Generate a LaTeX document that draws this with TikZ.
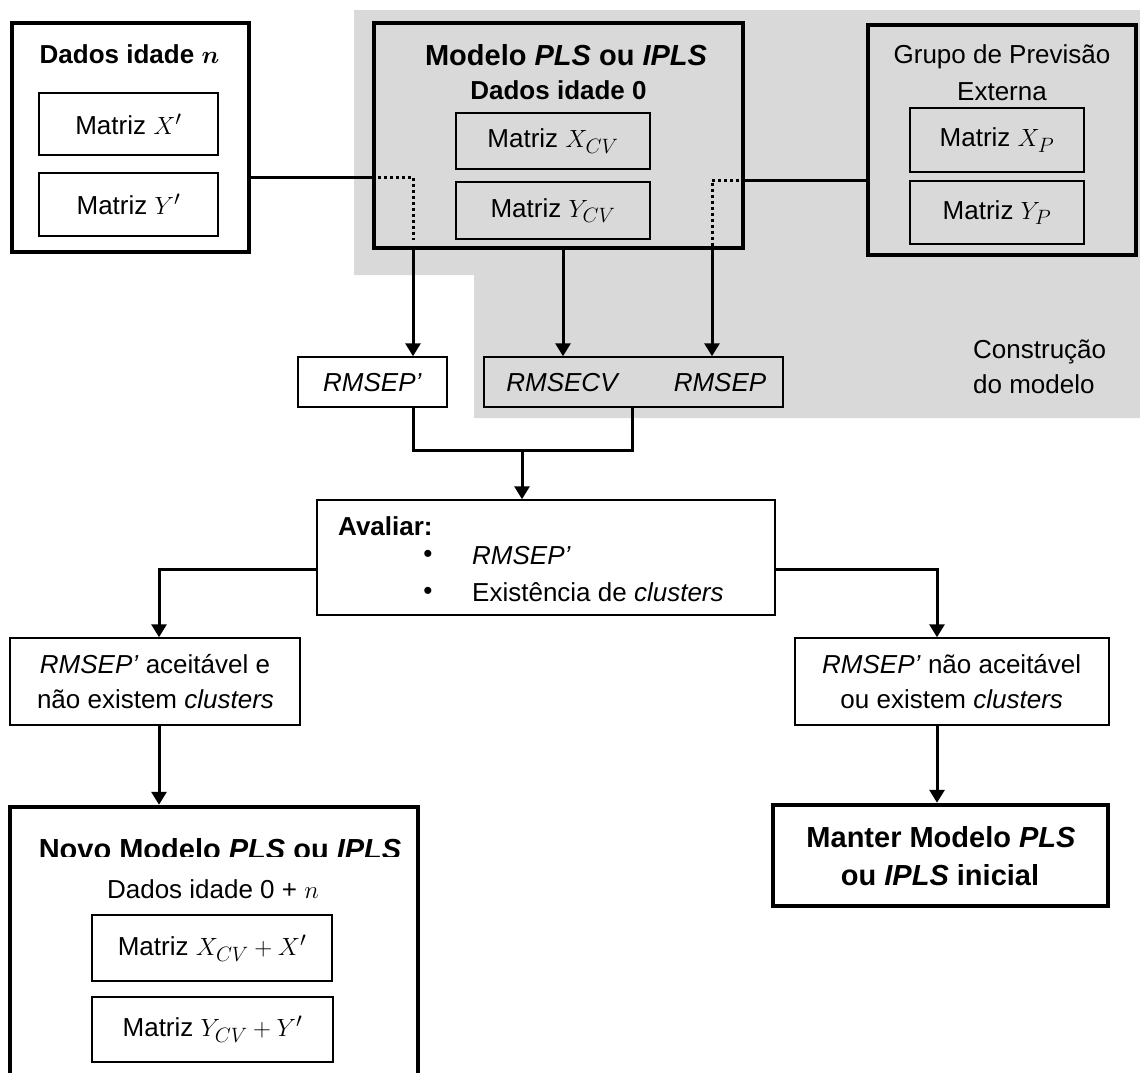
\documentclass[tikz,border=0pt]{standalone}
\usepackage{fontspec}
\setmainfont{Liberation Sans}
\usetikzlibrary{arrows.meta}
\DeclareMathSizes{26}{26.5}{20}{15}
\definecolor{bggray}{HTML}{D9D9D9}
\begin{document}
\begin{tikzpicture}[x=1pt,y=-1pt,
  nt/.style={font=\fontsize{26}{35}\selectfont, inner sep=0pt},
  bt/.style={font=\fontsize{26}{35}\selectfont\bfseries, inner sep=0pt},
  tt/.style={font=\fontsize{29}{38}\selectfont\bfseries, inner sep=0pt},
  bigbox/.style={draw, line width=4.5pt, inner sep=0pt},
  midbox/.style={draw, line width=3.6pt, inner sep=0pt},
  inbox/.style={draw, line width=1.5pt, inner sep=0pt, font=\fontsize{26}{35}\selectfont},
  conn/.style={line width=3pt},
  arr/.style={line width=3pt, -{Triangle[width=15pt,length=13pt]}},
  dots/.style={line width=3pt, dash pattern=on 3pt off 3pt}
]
\useasboundingbox (0,0) rectangle (1140,1072);
\clip (0,0) rectangle (1140,1072);
% grey background
\fill[bggray] (354,10) -- (1140,10) -- (1140,418) -- (474,418) -- (474,275) -- (354,275) -- cycle;

% Dados idade n
\node[midbox, minimum width=237, minimum height=229] (dados) at (130.5,137.5) {};
\node[bt, anchor=base] (dadosT) at (129.5,63) {Dados idade {\boldmath$n$}};
\node[inbox, minimum width=179, minimum height=62] (dX) at (128.5,124) {Matriz $X'$};
\node[inbox, minimum width=179, minimum height=63] (dY) at (128.5,204.5) {Matriz $Y'$};

% Modelo
\node[bigbox, minimum width=369, minimum height=225] (modelo) at (558.5,135.5) {};
\node[tt, anchor=base] (modeloT) at (566,65) {Modelo \textit{PLS} ou \textit{IPLS}};
\node[bt, anchor=base] (modeloS) at (558.5,99) {Dados idade 0};
\node[inbox, minimum width=194, minimum height=56] (mX) at (553,141) {Matriz $X_{CV}$};
\node[inbox, minimum width=194, minimum height=57] (mY) at (553,210.5) {Matriz $Y_{CV}$};

% Grupo de Previsao Externa
\node[midbox, minimum width=268, minimum height=230] (grupo) at (1002,140) {};
\node[nt, anchor=base] (grupoT1) at (1002,63) {Grupo de Previsão};
\node[nt, anchor=base] (grupoT2) at (1002,100) {Externa};
\node[inbox, minimum width=174, minimum height=64] (gX) at (997,140) {Matriz $X_{P}$};
\node[inbox, minimum width=174, minimum height=63] (gY) at (997,212.5) {Matriz $Y_{P}$};

% Construcao do modelo
\node[nt, anchor=base west] (cons1) at (973,358) {Construção};
\node[nt, anchor=base west] (cons2) at (973,393) {do modelo};

% RMSEP' and RMSECV/RMSEP
\node[inbox, fill=white, minimum width=149, minimum height=50] (rmsepl) at (372.5,382) {};
\node[nt, anchor=base] (rmseplT) at (372.5,391) {\textit{RMSEP’}};
\node[inbox, minimum width=299, minimum height=50] (rmsecv) at (633.5,382) {};
\node[nt, anchor=base] (lcv) at (563,391) {\textit{RMSECV}};
\node[nt, anchor=base] (lp) at (720,391) {\textit{RMSEP}};

% Avaliar
\node[inbox, minimum width=458, minimum height=115] (aval) at (546,557.5) {};
\node[bt, anchor=base west] (avT) at (338,535) {Avaliar:};
\node[nt, anchor=center] (b1) at (428,556) {•};
\node[nt, anchor=center] (b2) at (428,593) {•};
\node[nt, anchor=base west] (av1) at (472,564) {\textit{RMSEP’}};
\node[nt, anchor=base west] (av2) at (472,601) {Existência de \textit{clusters}};

% decision boxes
\node[inbox, minimum width=290, minimum height=87] (acc) at (155,681.5) {};
\node[nt, anchor=base] (acc1) at (155,673) {\textit{RMSEP’} aceitável e};
\node[nt, anchor=base] (acc2) at (155.5,708) {não existem \textit{clusters}};
\node[inbox, minimum width=314, minimum height=87] (nacc) at (952,681.5) {};
\node[nt, anchor=base] (nacc1) at (951.7,673) {\textit{RMSEP’} não aceitável};
\node[nt, anchor=base] (nacc2) at (951.7,708) {ou existem \textit{clusters}};

% Manter
\node[bigbox, minimum width=335, minimum height=101] (manter) at (940.5,855.5) {};
\node[tt, anchor=base] (man1) at (941,847) {Manter Modelo \textit{PLS}};
\node[tt, anchor=base] (man2) at (940,885) {ou \textit{IPLS} inicial};

% Novo modelo
\node[bigbox, minimum width=408, minimum height=293] (novo) at (214,953.5) {};
\begin{scope}
\clip (0,800) rectangle (1140,856);
\node[tt, anchor=base] (novoT) at (220,859) {Novo Modelo \textit{PLS} ou \textit{IPLS}};
\end{scope}
\node[nt, anchor=base] (novoS) at (213,898) {Dados idade 0 + $n$};
\node[inbox, minimum width=240, minimum height=66] (nX) at (212,948) {Matriz $X_{CV}+X'$};
\node[inbox, minimum width=241, minimum height=65] (nY) at (212.5,1029.5) {Matriz $Y_{CV}+Y'$};

% connectors
\coordinate (jl) at (413,177);
\coordinate (jld) at (413,240);
\coordinate (jr) at (712,180);
\coordinate (jrd) at (712,247);
\draw[conn] (dados.east |- jl) -- (modelo.west |- jl);
\draw[dots] (modelo.west |- jl) -- (jl) -- (jld);
\draw[arr] (jl |- modelo.south) -- (jl |- rmsepl.north);
\draw[arr] (lcv |- modelo.south) -- (lcv |- rmsecv.north);
\draw[conn] (grupo.west |- jr) -- (modelo.east |- jr);
\draw[dots] (modelo.east |- jr) -- (jr) -- (jrd);
\draw[arr] (jr |- modelo.south) -- (jr |- rmsecv.north);

\coordinate (mrg) at (522,450);
\coordinate (cvx) at (632,450);
\draw[conn] (jl |- rmsepl.south) |- (cvx) -- (cvx |- rmsecv.south);
\draw[arr] (mrg) -- (mrg |- aval.north);

\coordinate (al) at (159,569);
\coordinate (ar) at (937,569);
\draw[arr] (aval.west |- al) -- (al) -- (al |- acc.north);
\draw[arr] (aval.east |- ar) -- (ar) -- (ar |- nacc.north);
\draw[arr] (al |- acc.south) -- (al |- novo.north);
\draw[arr] (ar |- nacc.south) -- (ar |- manter.north);
\end{tikzpicture}
\end{document}
